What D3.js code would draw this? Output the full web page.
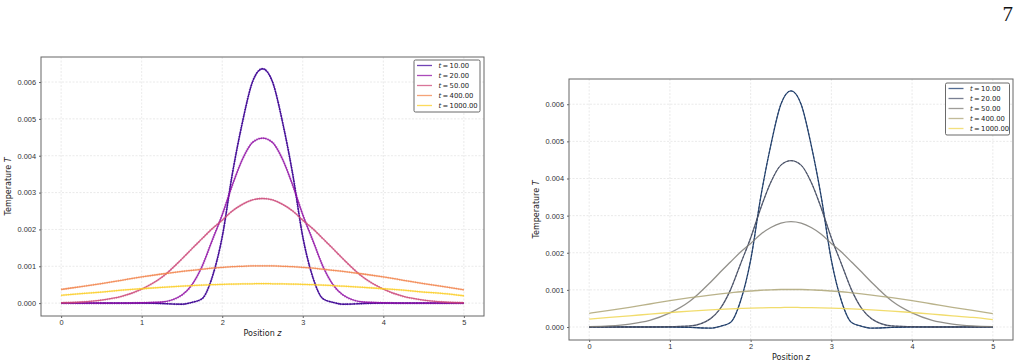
<!DOCTYPE html>
<html>
<head>
<meta charset="utf-8">
<script src="https://cdn.jsdelivr.net/npm/d3@7"></script>
<style>
  body { margin: 0; background: #fff; }
  svg { display: block; font-family: "DejaVu Sans", sans-serif; }
</style>
</head>
<body>
<div id="chart"></div>
<script>
// positions along z
const zPos = [0, 0.25, 0.5, 0.75, 1, 1.25, 1.5, 1.625, 1.75, 1.875, 2, 2.125, 2.25, 2.375, 2.5,
	2.625, 2.75, 2.875, 3, 3.125, 3.25, 3.375, 3.5, 3.75, 4, 4.25, 4.5, 4.75, 5];

// temperature profiles
const T10 = [0, 0, 0, 0, 0, -0.00001, -0.00003, 0.00002, 0.00012, 0.0007, 0.0018, 0.0035, 0.0049, 0.006, 0.00636,
	0.006, 0.0049, 0.0035, 0.0018, 0.0007, 0.00012, 0.00002, -0.00003, -0.00001, 0, 0, 0, 0, 0];
const T20 = [0, 0, 0, 0, 0.00001, 0.00003, 0.00022, 0.0005, 0.001, 0.0017, 0.0024, 0.0032, 0.0039, 0.00436, 0.00448,
	0.00436, 0.0039, 0.0032, 0.0024, 0.0017, 0.001, 0.0005, 0.00022, 0.00003, 0.00001, 0, 0, 0, 0];
const T50 = [0.00001, 0.00003, 0.00008, 0.00018, 0.00038, 0.0007, 0.0012, 0.00148, 0.00175, 0.00202, 0.00225, 0.0025, 0.00268, 0.0028, 0.00284,
	0.0028, 0.00268, 0.0025, 0.00225, 0.00202, 0.00175, 0.00148, 0.0012, 0.0007, 0.00038, 0.00018, 0.00008, 0.00003, 0.00001];
const T400 = [0.00037, 0.00045, 0.00053, 0.00062, 0.00071, 0.00079, 0.00086, 0.00089, 0.00092, 0.00095, 0.00097, 0.00099, 0.001, 0.00101, 0.00101,
	0.00101, 0.001, 0.00099, 0.00097, 0.00095, 0.00092, 0.00089, 0.00086, 0.00079, 0.00071, 0.00062, 0.00053, 0.00045, 0.00036];
const T1000 = [0.00021, 0.00026, 0.0003, 0.00035, 0.00039, 0.00043, 0.00046, 0.000475, 0.00049, 0.0005, 0.00051, 0.000515, 0.00052, 0.000525, 0.00053,
	0.000525, 0.00052, 0.000515, 0.00051, 0.0005, 0.00049, 0.000475, 0.00046, 0.00043, 0.00039, 0.00035, 0.0003, 0.00026, 0.0002];

const timeLabels = ["10.00", "20.00", "50.00", "400.00", "1000.00"];
const plasmaStops = [0.1, 0.3, 0.5, 0.7, 0.9];
const cividisStops = [0.15, 0.3, 0.5, 0.7, 0.92];
const xTicks = [0, 1, 2, 3, 4, 5];
const yTicks = [0, 0.001, 0.002, 0.003, 0.004, 0.005, 0.006];

const profiles = [T10, T20, T50, T400, T1000];
const series = profiles.map((vals, i) => ({
	label: timeLabels[i],
	points: zPos.map((z, j) => ({ z: z, T: vals[j] }))
}));

const width = 1023, height = 364;
const svg = d3.select("#chart").append("svg")
	.attr("width", width)
	.attr("height", height);

// page number
svg.append("text")
	.attr("x", 1013)
	.attr("y", 21)
	.attr("text-anchor", "end")
	.style("font-family", "'Liberation Serif', 'DejaVu Serif', serif")
	.style("font-size", "21px")
	.attr("fill", "#111")
	.text("7");

function drawPanel(box, interp, stops, style, legendBox) {
	let g = svg.append("g");

	let allT = profiles.flat();
	let lo = d3.min(allT), hi = d3.max(allT);
	let pad = (hi - lo) * 0.05;

	let xScale = d3.scaleLinear().domain([-0.25, 5.25]).range([box.x0, box.x1]);
	let yScale = d3.scaleLinear().domain([lo - pad, hi + pad]).range([box.y1, box.y0]);

	// grid
	g.append("g").selectAll("line").data(xTicks).enter().append("line")
		.attr("x1", d => xScale(d)).attr("x2", d => xScale(d))
		.attr("y1", box.y0).attr("y2", box.y1)
		.attr("stroke", "#dcdcdc").attr("stroke-width", 0.6).attr("stroke-dasharray", "2,1.5");
	g.append("g").selectAll("line").data(yTicks).enter().append("line")
		.attr("x1", box.x0).attr("x2", box.x1)
		.attr("y1", d => yScale(d)).attr("y2", d => yScale(d))
		.attr("stroke", "#dcdcdc").attr("stroke-width", 0.6).attr("stroke-dasharray", "2,1.5");

	let line = d3.line()
		.x(d => xScale(d.z))
		.y(d => yScale(d.T))
		.curve(d3.curveMonotoneX);

	series.forEach((s, i) => {
		let c = interp(stops[i]);
		g.append("path")
			.datum(s.points)
			.attr("d", line)
			.attr("fill", "none")
			.attr("stroke", c)
			.attr("stroke-opacity", 0.85)
			.attr("stroke-width", 1.3);
		if (style === "dotted") {
			// numerical solution as dots
			g.append("path")
				.datum(s.points)
				.attr("d", line)
				.attr("fill", "none")
				.attr("stroke", c)
				.attr("stroke-opacity", 0.5)
				.attr("stroke-width", 2.2)
				.attr("stroke-dasharray", "1,1.3");
			if (i === 0) {
				g.append("path")
					.datum(s.points)
					.attr("d", line)
					.attr("fill", "none")
					.attr("stroke", d3.color(c).darker(0.6))
					.attr("stroke-width", 0.8)
					.attr("stroke-dasharray", "2,1.5");
			}
		} else if (i < 2) {
			g.append("path")
				.datum(s.points)
				.attr("d", line)
				.attr("fill", "none")
				.attr("stroke", d3.color(c).darker(0.6))
				.attr("stroke-width", 0.8)
				.attr("stroke-dasharray", "2.5,1.5");
		}
	});

	// frame
	g.append("rect")
		.attr("x", box.x0).attr("y", box.y0)
		.attr("width", box.x1 - box.x0).attr("height", box.y1 - box.y0)
		.attr("fill", "none").attr("stroke", "#666").attr("stroke-width", 1);

	// axes
	let xAxis = g.append("g")
		.attr("transform", "translate(0," + box.y1 + ")")
		.call(d3.axisBottom(xScale).tickValues(xTicks).tickFormat(d3.format("d")).tickSize(2).tickPadding(2));
	let yAxis = g.append("g")
		.attr("transform", "translate(" + box.x0 + ",0)")
		.call(d3.axisLeft(yScale).tickValues(yTicks).tickFormat(d3.format(".3f")).tickSize(2).tickPadding(3));
	[xAxis, yAxis].forEach(a => {
		a.select(".domain").remove();
		a.selectAll("line").attr("stroke", "#666");
		a.selectAll("text").attr("fill", "#333").style("font-size", "7.4px");
	});

	// X-axis label
	let xl = g.append("text")
		.attr("x", (box.x0 + box.x1) / 2)
		.attr("y", box.y1 + 20)
		.attr("text-anchor", "middle")
		.attr("fill", "#222")
		.style("font-size", "8px");
	xl.append("tspan").text("Position ");
	xl.append("tspan").style("font-style", "italic").text("z");

	// Y-axis label
	let yl = g.append("text")
		.attr("transform", "translate(" + (box.x0 - 30) + "," + ((box.y0 + box.y1) / 2) + ") rotate(-90)")
		.attr("text-anchor", "middle")
		.attr("fill", "#222")
		.style("font-size", "8px");
	yl.append("tspan").text("Temperature ");
	yl.append("tspan").style("font-style", "italic").text("T");

	// legend
	let lg = g.append("g");
	lg.append("rect")
		.attr("x", legendBox.x).attr("y", legendBox.y)
		.attr("width", legendBox.w).attr("height", legendBox.h)
		.attr("rx", 1.5)
		.attr("fill", "#fff").attr("stroke", "#444").attr("stroke-width", 0.8);
	series.forEach((s, i) => {
		let yy = legendBox.y + 5.5 + i * 10;
		lg.append("line")
			.attr("x1", legendBox.x + 3).attr("x2", legendBox.x + 18)
			.attr("y1", yy).attr("y2", yy)
			.attr("stroke", interp(stops[i])).attr("stroke-opacity", 0.75).attr("stroke-width", 1.3);
		let t = lg.append("text")
			.attr("x", legendBox.x + 24.5)
			.attr("y", yy + 2.4)
			.attr("fill", "#222")
			.style("font-size", "6.8px");
		t.append("tspan").style("font-style", "italic").text("t");
		t.append("tspan").text("\u2009=\u2009" + s.label);
	});
}

drawPanel({ x0: 41, x1: 484, y0: 57, y1: 316 }, d3.interpolatePlasma, plasmaStops, "dotted",
	{ x: 414, y: 60, w: 66, h: 52 });
drawPanel({ x0: 569, x1: 1013, y0: 79, y1: 340 }, d3.interpolateCividis, cividisStops, "dashed",
	{ x: 945.5, y: 83, w: 64, h: 52 });
</script>
</body>
</html>
